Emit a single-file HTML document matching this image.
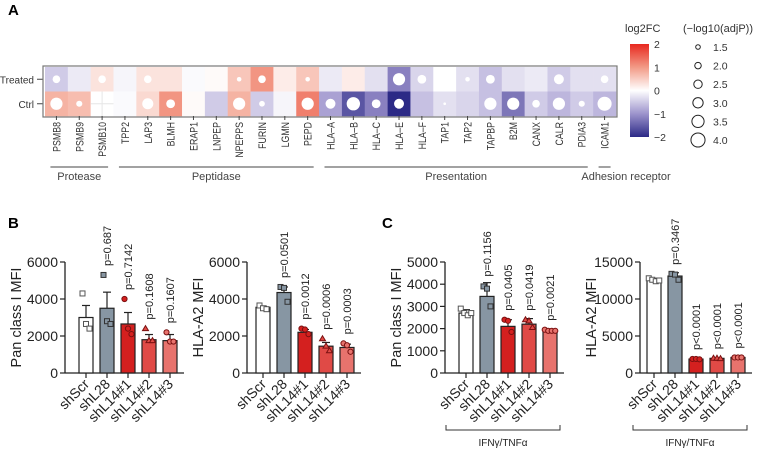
<!DOCTYPE html>
<html><head><meta charset="utf-8"><style>
body{margin:0;background:#fff}
svg{display:block;font-family:"Liberation Sans",Arial,sans-serif}
</style></head><body>
<svg id="fig" width="764" height="455" viewBox="0 0 764 455" xmlns="http://www.w3.org/2000/svg">
<defs>
<linearGradient id="cbar" x1="0" y1="1" x2="0" y2="0">
<stop offset="0" stop-color="#2c2a86"/><stop offset="0.25" stop-color="#9d94cc"/><stop offset="0.5" stop-color="#ffffff"/><stop offset="0.75" stop-color="#f29a86"/><stop offset="1" stop-color="#e8281f"/>
</linearGradient>
</defs>
<text x="8" y="15" font-size="15" font-weight="bold">A</text>
<text x="8" y="228" font-size="15" font-weight="bold">B</text>
<text x="382" y="228" font-size="15" font-weight="bold">C</text>
<g id="heat"></g>
<g id="charts"></g>
</svg>
<script>
const NS="http://www.w3.org/2000/svg";
function mk(parent,tag,attrs,txt){const e=document.createElementNS(NS,tag);for(const k in attrs)e.setAttribute(k,attrs[k]);if(txt!==undefined)e.textContent=txt;parent.appendChild(e);return e;}

// ---------- Heatmap data ----------
const genes=["PSMB8","PSMB9","PSMB10","TPP2","LAP3","BLMH","ERAP1","LNPEP","NPEPPS","FURIN","LGMN","PEPD","HLA\u2013A","HLA\u2013B","HLA\u2013C","HLA\u2013E","HLA\u2013F","TAP1","TAP2","TAPBP","B2M","CANX","CALR","PDIA3","ICAM1"];
const rows=["Treated","Ctrl"];
const fcTreated=[-0.5,-0.2,0.3,-0.1,0.3,0.3,-0.05,0.05,0.6,1.1,0.2,0.6,-0.2,0.2,-0.3,-1.2,-0.4,0,-0.3,-0.6,-0.3,-0.2,-0.5,-0.3,-0.3];
const fcCtrl=[0.8,0.7,0,-0.05,0.4,1.1,0.05,-0.5,0.8,-0.5,-0.1,1.3,-0.9,-1.6,-1.2,-2.0,-0.6,-0.3,-0.4,-0.6,-1.3,-0.5,-0.7,-0.5,-0.7];
const pTreated=[2.3,null,2.3,null,2.3,null,null,null,1.5,2.3,null,1.5,null,null,null,3.5,2.6,null,1.5,2.6,null,null,2.9,null,2.3];
const pCtrl=[3.5,1.9,null,null,3.2,2.6,null,null,3.5,1.8,null,3.5,2.9,3.8,2.6,2.9,null,1.0,null,3.5,3.5,2.3,3.5,1.9,4.0];
const groups=[["Protease",0,2],["Peptidase",3,11],["Presentation",12,23],["Adhesion receptor",24,24]];
const cbTicks=[2,1,0,-1,-2];
const sizeTicks=[1.5,2.0,2.5,3.0,3.5,4.0];

function lerp(a,b,t){return a.map((v,i)=>Math.round(v+(b[i]-v)*t));}
function fcColor(v){
  const neg=[[255,255,255],[160,150,206],[44,42,134]], pos=[[255,255,255],[243,160,140],[232,50,35]];
  const s=v<0?neg:pos; let a=Math.min(Math.abs(v),2);
  const c=a<=1?lerp(s[0],s[1],a):lerp(s[1],s[2],a-1);
  return `rgb(${c[0]},${c[1]},${c[2]})`;
}
function rad(p){return 2.3+(p-1.5)*1.9;}

const H=document.getElementById('heat');
const hx0=45,hx1=616,hy0=67,rowH=24.5;
const cw=(hx1-hx0)/genes.length;
const cx=i=>hx0+cw*(i+0.5);
const rowY=r=>hy0+rowH*r;
const fcs=[fcTreated,fcCtrl], ps=[pTreated,pCtrl];
rows.forEach((rn,r)=>{
  genes.forEach((g,i)=>{
    const cell=mk(H,'rect',{x:hx0+cw*i,y:rowY(r),width:cw+0.3,height:rowH+0.3,fill:fcColor(fcs[r][i])});
    
    
    const p=ps[r][i];
    if(p!==null){
      const c=mk(H,'circle',{cx:cx(i),cy:rowY(r)+rowH/2,r:rad(p),fill:'#fff'});
      
      
    }
  });
  const t=mk(H,'text',{x:34,y:rowY(r)+rowH/2+4,'font-size':10,'text-anchor':'end',fill:'#333'},rn);
  
  
  mk(H,'line',{x1:37,x2:43,y1:rowY(r)+rowH/2,y2:rowY(r)+rowH/2,stroke:'#444'});
});
mk(H,'line',{x1:cx(2),x2:cx(2),y1:rowY(1),y2:rowY(2),stroke:'#e6e6e6'});
mk(H,'line',{x1:hx0+cw*2,x2:hx0+cw*3,y1:rowY(1)+rowH/2,y2:rowY(1)+rowH/2,stroke:'#e6e6e6'});
const frame=mk(H,'rect',{x:hx0-2,y:hy0-1,width:hx1-hx0+3,height:rowH*2+2,fill:'none',stroke:'#777','stroke-width':1.2});


genes.forEach((g,i)=>{
  mk(H,'line',{x1:cx(i),x2:cx(i),y1:116,y2:120,stroke:'#444'});
  const t=mk(H,'text',{transform:`translate(${cx(i)+4},122) rotate(-90) scale(0.8,1)`,'font-size':11,'text-anchor':'end',fill:'#333'},g);
  
  
});
groups.forEach(([n,a,b])=>{
  const x1=cx(a)-6,x2=cx(b)+6;
  const l=mk(H,'line',{x1:x1,x2:x2,y1:167,y2:167,stroke:'#444','stroke-width':1});
  
  
  const mid=n==="Adhesion receptor"?626:(x1+x2)/2;
  const t=mk(H,'text',{x:mid,y:180,'font-size':11,'text-anchor':'middle',fill:'#444'},n);
  
  
});
const cbY0=44,cbY1=137;
const cbv=v=>cbY0+(2-v)/4*(cbY1-cbY0);
let t=mk(H,'text',{x:625,y:32,'font-size':11,fill:'#333'},'log2FC');


const cb=mk(H,'rect',{x:630,y:cbY0,width:19,height:cbY1-cbY0,fill:'url(#cbar)'});


cbTicks.forEach(v=>{
  const tt=mk(H,'text',{x:654,y:cbv(v)+4,'font-size':10.5,fill:'#333'},v<0?'\u2212'+(-v):String(v));
  
  
});
t=mk(H,'text',{x:683,y:32,'font-size':11,fill:'#333'},'(\u2212log10(adjP))');


sizeTicks.forEach((v,i)=>{
  const y=47+i*18.6;
  const c=mk(H,'circle',{cx:698,cy:y,r:rad(v),fill:'none',stroke:'#222','stroke-width':1});
  
  
  mk(H,'text',{x:713,y:y+4,'font-size':10.5,fill:'#333'},v.toFixed(1));
});

// ---------- Bar chart data ----------
const cats=["shScr","shL28","shL14#1","shL14#2","shL14#3"];
const colors=["#ffffff","#8796a3","#d4201f","#e04a46","#e8736d"];
const b1Means=[3000,3500,2650,1800,1750];
const b1Err=[650,870,620,280,330];
const b1Pts=[[4300,2650,2400],[5300,2800,2650],[4000,2400,2100],[2400,1750,1750],[2200,1700,1700]];
const b1P=["","p=0.687","p=0.7142","p=0.1608","p=0.1607"];
const b2Means=[3550,4350,2200,1450,1380];
const b2Err=[60,300,150,200,180];
const b2Pts=[[3650,3500,3450],[4650,4600,3850],[2400,2350,2100],[1850,1450,1200],[1600,1500,1150]];
const b2P=["","p=0.0501","p=0.0012","p=0.0006","p=0.0003"];
const c1Means=[2700,3450,2100,2200,1900];
const c1Err=[150,620,300,250,60];
const c1Pts=[[2900,2700,2600,2700],[3900,3800,3000],[2400,2350,1850],[2400,2350,2050],[1950,1900,1900,1900]];
const c1P=["","p=0.1156","p=0.0405","p=0.0419","p=0.0021"];
const c2Means=[12600,13100,1880,1980,2100];
const c2Err=[200,450,50,50,30];
const c2Pts=[[12800,12600,12400,12500],[13400,13300,12600],[1900,1900,1850],[2000,2000,1950],[2100,2100,2100]];
const c2P=["","p=0.3467","p<0.0001","p<0.0001","p<0.0001"];
const b1Ticks=[0,2000,4000,6000], b2Ticks=[0,2000,4000,6000];
const c1Ticks=[0,1000,2000,3000,4000,5000], c2Ticks=[0,5000,10000,15000];

const C=document.getElementById('charts');
function chart(name,ax,x0,ymax,ticks,means,err,pts,pl,ylab,bracket){
  const g=mk(C,'g',{});
  
  
  const yb=373,yt=262;
  const y=v=>yb-v/ymax*(yb-yt);
  const x=i=>x0+i*21;
  const bw=14;
  mk(g,'line',{x1:ax,x2:ax,y1:yt,y2:yb,stroke:'#222','stroke-width':1.3});
  mk(g,'line',{x1:ax,x2:x(4)+14,y1:yb,y2:yb,stroke:'#222','stroke-width':1.3});
  ticks.forEach(v=>{
    mk(g,'line',{x1:ax-5,x2:ax,y1:y(v),y2:y(v),stroke:'#222','stroke-width':1.2});
    const tt=mk(g,'text',{x:ax-7,y:y(v)+5,'font-size':14,'text-anchor':'end',fill:'#222'},String(v));
    
    
  });
  const yl=mk(g,'text',{transform:`translate(${ax-44},${(yb+yt)/2}) rotate(-90)`,'font-size':14.5,'text-anchor':'middle',fill:'#222'},ylab);
  
  
  means.forEach((m,i)=>{
    const b=mk(g,'rect',{x:x(i)-bw/2,y:y(m),width:bw,height:yb-y(m),fill:colors[i],stroke:'#222','stroke-width':1.2});
    
    
    const et=y(m+err[i]);
    mk(g,'line',{x1:x(i),x2:x(i),y1:et,y2:y(m),stroke:'#222','stroke-width':1.2});
    mk(g,'line',{x1:x(i)-4,x2:x(i)+4,y1:et,y2:et,stroke:'#222','stroke-width':1.2});
    let top=et;
    pts[i].forEach((p,k)=>{
      const py=y(p),px=x(i)+(k-(pts[i].length-1)/2)*3.5;
      top=Math.min(top,py-3);
      const fill=i===0?'#fff':(i===1?'#8796a3':colors[i]);
      const st=i===0?'#555':(i===1?'#333':'#7a1010');
      let mrk;
      if(i<=1) mrk=mk(g,'rect',{x:px-2.5,y:py-2.5,width:5,height:5,fill:fill,stroke:st,'stroke-width':1});
      else if(i===3) mrk=mk(g,'path',{d:`M${px},${py-3}L${px+3},${py+2}L${px-3},${py+2}Z`,fill:fill,stroke:st,'stroke-width':1});
      else mrk=mk(g,'circle',{cx:px,cy:py,r:2.6,fill:fill,stroke:st,'stroke-width':1});
      
      
    });
    mk(g,'line',{x1:x(i),x2:x(i),y1:yb,y2:yb+5,stroke:'#222','stroke-width':1.2});
    const xl=mk(g,'text',{transform:`translate(${x(i)+4},${yb+12}) rotate(-45)`,'font-size':14,'text-anchor':'end',fill:'#222'},cats[i]);
    
    
    if(pl[i]){
      const pt=mk(g,'text',{transform:`translate(${x(i)+4},${top-6}) rotate(-90)`,'font-size':11,'text-anchor':'start',fill:'#222'},pl[i]);
      
      
    }
  });
  if(bracket){
    const [bx1,bx2]=bracket;
    const br=mk(g,'path',{d:`M${bx1},425V430H${bx2}V425`,fill:'none',stroke:'#333','stroke-width':1});
    
    
    const bt=mk(g,'text',{x:(bx1+bx2)/2,y:446,'font-size':10,'text-anchor':'middle',fill:'#222'},'IFN\u03b3/TNF\u03b1');
    
    
  }
}
chart('chart-b-pan-class-i',65,86,6000,b1Ticks,b1Means,b1Err,b1Pts,b1P,'Pan class I MFI',null);
chart('chart-b-hla-a2',247,263,6000,b2Ticks,b2Means,b2Err,b2Pts,b2P,'HLA-A2 MFI',null);
chart('chart-c-pan-class-i',445,466,5000,c1Ticks,c1Means,c1Err,c1Pts,c1P,'Pan class I MFI',[446,560]);
chart('chart-c-hla-a2',640,654,15000,c2Ticks,c2Means,c2Err,c2Pts,c2P,'HLA-A2 MFI',[633,747]);
</script>
</body></html>
